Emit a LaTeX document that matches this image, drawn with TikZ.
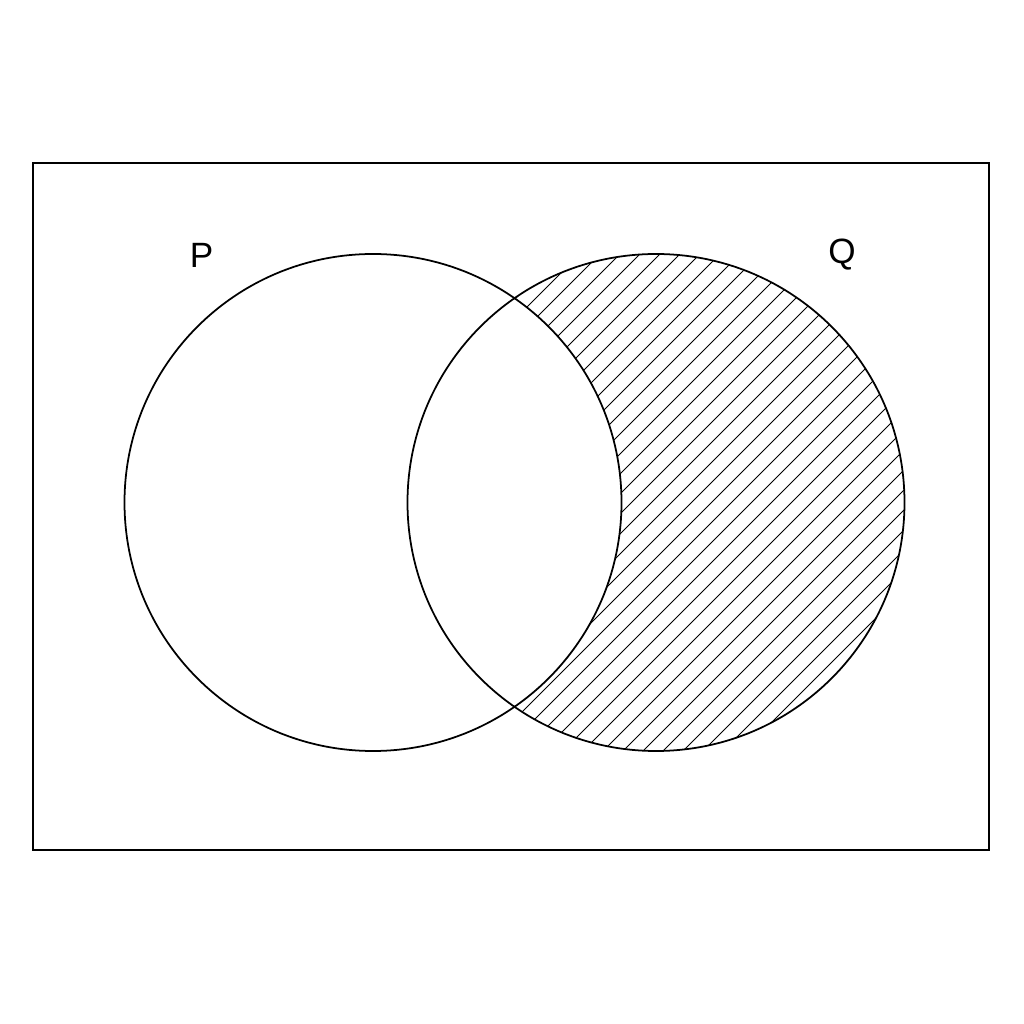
\documentclass[tikz,border=0pt]{standalone}
\usepackage{fontspec}
\setmainfont{Liberation Sans}
\tikzstyle{conjunto} = [draw=black, line width=1pt]
\tikzstyle{rayado} = [draw=black, line width=0.45pt]
\tikzstyle{etiqueta} = [font=\fontsize{20}{24}\selectfont, inner sep=0pt]

\begin{document}
\begin{tikzpicture}
	\useasboundingbox (0,0) rectangle (20.48,20.48);
	\coordinate (cP) at (7.46,10.43);
	\coordinate (cQ) at (13.12,10.43);
	% universo
	\draw[line width=0.9pt] (0.66,3.48) rectangle (19.78,17.22);
	% Q menos P
	\begin{scope}
		\clip (cQ) circle (4.97);
		\foreach \i in {0,...,50}
			\draw[rayado] (-2+\i*0.4,5) -- ++(45:15);
		\fill[white] (cP) circle (4.97);
	\end{scope}
	\draw[conjunto] (cP) circle (4.97);
	\draw[conjunto] (cQ) circle (4.97);
	\node[etiqueta] (P) at (4.03,15.38) {P};
	\node[etiqueta] (Q) at (16.84,15.38) {Q};
\end{tikzpicture}
\end{document}
